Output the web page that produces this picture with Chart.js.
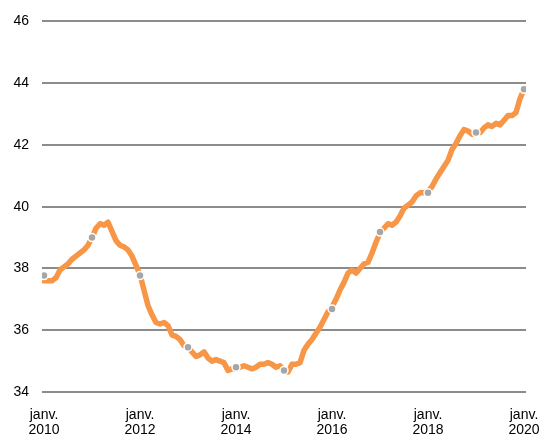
<!DOCTYPE html>
<html>
<head>
<meta charset="utf-8">
<script src="https://cdn.jsdelivr.net/npm/chart.js@4"></script>
<style>
  html, body { margin: 0; padding: 0; background: #ffffff; }
  #wrap { width: 542px; height: 437px; }
</style>
</head>
<body>
<div id="wrap"><canvas id="c" width="542" height="437"></canvas></div>
<script>
// Monthly series, janv. 2010 .. janv. 2020
const monthlyValues = [
  37.6, 37.6, 37.6, 37.7, 37.95, 38.05, 38.15, 38.3, 38.4, 38.5, 38.6, 38.75,
  39.0, 39.3, 39.45, 39.4, 39.5, 39.2, 38.9, 38.75, 38.7, 38.6, 38.4, 38.1,
  37.8, 37.3, 36.8, 36.5, 36.25, 36.2, 36.25, 36.15, 35.85, 35.8, 35.7, 35.5,
  35.45, 35.3, 35.15, 35.2, 35.3, 35.1, 35.0, 35.05, 35.0, 34.95, 34.7, 34.75,
  34.75, 34.8, 34.85, 34.8, 34.75, 34.8, 34.9, 34.9, 34.95, 34.9, 34.8, 34.85,
  34.7, 34.65, 34.9, 34.9, 34.95, 35.35, 35.55, 35.7, 35.9, 36.1, 36.35, 36.6,
  36.75, 37.0, 37.3, 37.55, 37.85, 37.95, 37.85, 38.0, 38.15, 38.2, 38.5, 38.85,
  39.15, 39.3, 39.45, 39.4, 39.5, 39.7, 39.95, 40.05, 40.15, 40.35, 40.45, 40.45,
  40.5, 40.65, 40.9, 41.1, 41.3, 41.5, 41.85, 42.05, 42.3, 42.5, 42.45, 42.35,
  42.4, 42.4, 42.55, 42.65, 42.6, 42.7, 42.65, 42.8, 42.95, 42.95, 43.05, 43.5,
  43.8
];
// Annual markers (janv. of each year 2010..2020)
const annualValues = [37.77, 39.0, 37.77, 35.45, 34.8, 34.7, 36.69, 39.18, 40.45, 42.4, 43.8];
const startYear = 2010;
const tickYears = ['2010', '2012', '2014', '2016', '2018', '2020'];
const tickMonthWord = 'janv.';
const yTicks = [34, 36, 38, 40, 42, 44, 46];

const lineData = monthlyValues.map((v, i) => ({ x: i, y: v }));
const dotData = annualValues.map((v, i) => ({ x: i * 12, y: v }));

const FONT = { family: "'Liberation Sans', Arial, sans-serif", size: 14 };

new Chart(document.getElementById('c'), {
  type: 'line',
  data: {
    datasets: [
      {
        data: dotData,
        showLine: false,
        pointRadius: 4,
        pointHoverRadius: 4,
        pointBackgroundColor: '#a6a6a6',
        pointBorderColor: '#ffffff',
        pointBorderWidth: 1.5,
        order: 0
      },
      {
        data: lineData,
        borderColor: '#f79646',
        borderWidth: 5.5,
        pointRadius: 0,
        tension: 0,
        borderJoinStyle: 'round',
        borderCapStyle: 'round',
        fill: false,
        order: 1
      }
    ]
  },
  options: {
    responsive: false,
    animation: false,
    events: [],
    layout: { padding: { top: 19, right: 16, left: 0, bottom: 0 } },
    plugins: { legend: { display: false }, tooltip: { enabled: false } },
    scales: {
      x: {
        type: 'linear',
        min: -0.5,
        max: 120.5,
        afterBuildTicks: (scale) => {
          scale.ticks = tickYears.map(y => ({ value: (parseInt(y) - startYear) * 12 }));
        },
        afterFit: (scale) => {
          scale.height = 45;
          scale.paddingLeft = 0;
          scale.paddingRight = 0;
        },
        grid: { display: false, drawTicks: false },
        border: { display: false },
        ticks: {
          color: '#000000',
          font: { ...FONT, lineHeight: 1.07 },
          padding: 16,
          maxRotation: 0,
          autoSkip: false,
          callback: (v) => [tickMonthWord, String(startYear + v / 12)]
        }
      },
      y: {
        min: 34,
        max: 46,
        afterBuildTicks: (scale) => { scale.ticks = yTicks.map(v => ({ value: v })); },
        afterFit: (scale) => { scale.width = 42; },
        grid: { color: '#8c8c8c', lineWidth: 2, drawTicks: false },
        border: { display: false },
        ticks: {
          color: '#000000',
          font: FONT,
          padding: 13
        }
      }
    }
  }
});
</script>
</body>
</html>
